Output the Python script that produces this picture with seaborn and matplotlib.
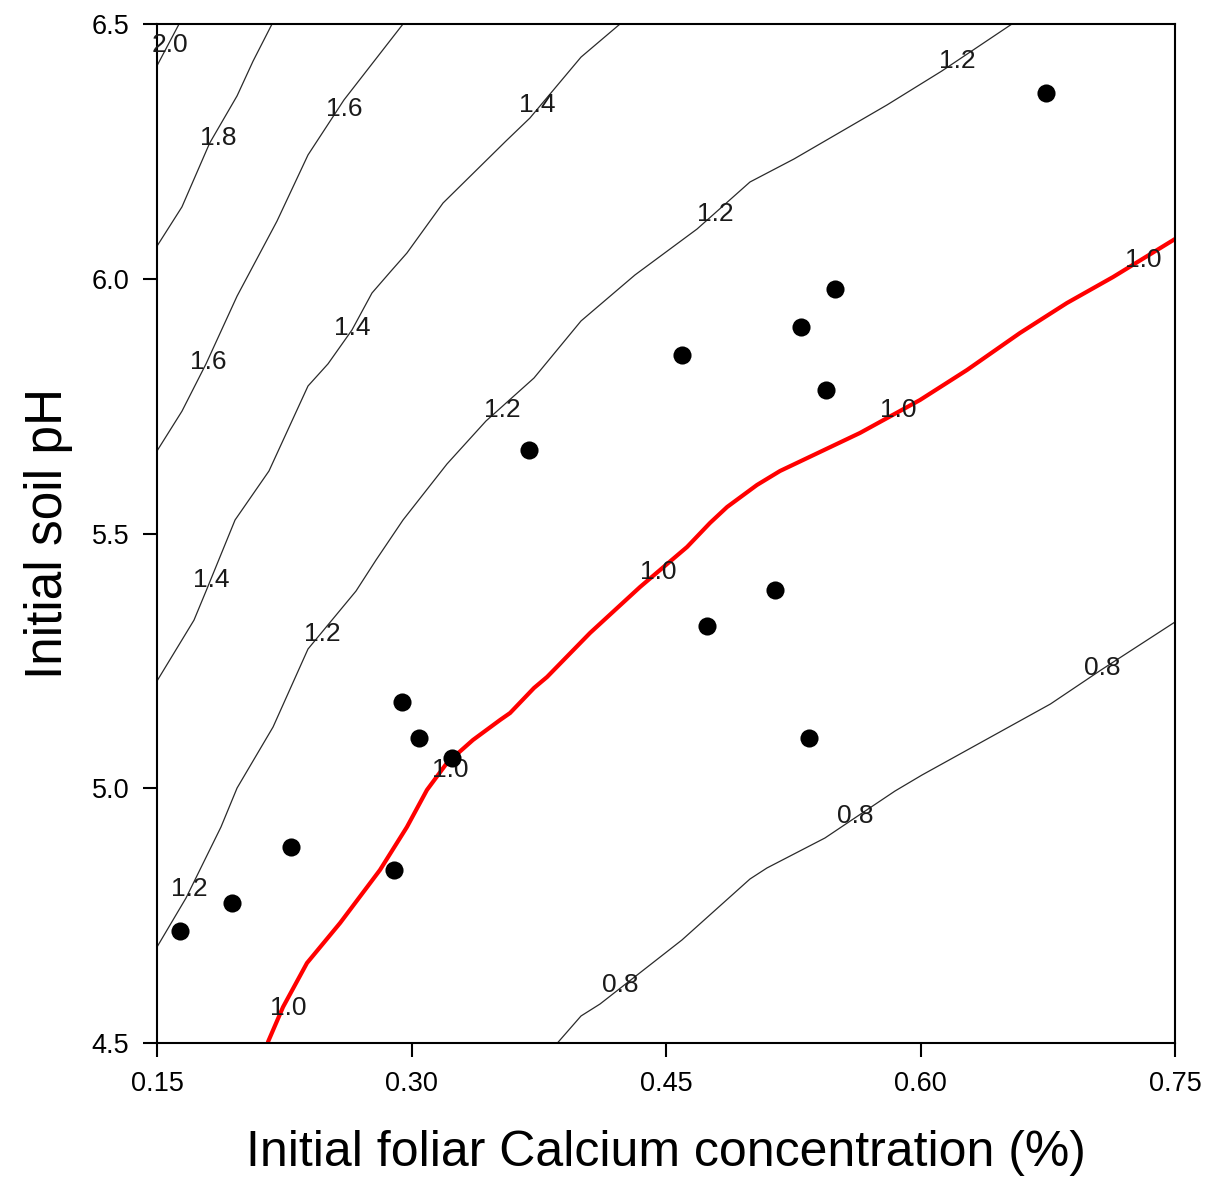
import matplotlib
matplotlib.use("Agg")
import matplotlib.pyplot as plt
import seaborn as sns
import pandas as pd

# ---------------- data ----------------
# observed points
ca_obs = [0.1636, 0.1942, 0.2290, 0.2897, 0.2944, 0.3044, 0.3239, 0.3692,
          0.4594, 0.4742, 0.5142, 0.5296, 0.5496, 0.5443, 0.5343, 0.6740]
ph_obs = [4.720, 4.775, 4.885, 4.840, 5.169, 5.099, 5.059, 5.664,
          5.850, 5.318, 5.389, 5.905, 5.980, 5.782, 5.099, 6.365]

# contour lines (x = foliar Ca %, y = soil pH)
c20_x = [0.150, 0.163]
c20_y = [6.418, 6.500]

c18_x = [0.150, 0.1647, 0.1810, 0.1972, 0.2066, 0.2178]
c18_y = [6.064, 6.141, 6.266, 6.359, 6.427, 6.500]

c16_x = [0.150, 0.1647, 0.1789, 0.1972, 0.2207, 0.2390, 0.2602, 0.2950]
c16_y = [5.662, 5.740, 5.833, 5.966, 6.113, 6.243, 6.351, 6.500]

c14_x = [0.150, 0.1718, 0.1789, 0.1960, 0.2160, 0.2390, 0.2508, 0.2649,
         0.2767, 0.2879, 0.2973, 0.3186, 0.3557, 0.3698, 0.3999, 0.4229]
c14_y = [5.2105, 5.330, 5.387, 5.5265, 5.6227, 5.7895, 5.833, 5.8994,
         5.972, 6.015, 6.0505, 6.1487, 6.2704, 6.3155, 6.435, 6.500]

c12_x = [0.150, 0.1671, 0.1877, 0.1972, 0.2184, 0.2390, 0.2673, 0.2791,
         0.2950, 0.3209, 0.3439, 0.3722, 0.3999, 0.4317, 0.4683, 0.4995,
         0.5254, 0.5802, 0.6126, 0.6539]
c12_y = [4.6884, 4.7846, 4.9239, 5.0005, 5.1202, 5.2733, 5.3871, 5.448,
         5.5265, 5.6364, 5.7208, 5.8052, 5.9171, 6.0074, 6.0976, 6.1899,
         6.235, 6.341, 6.4078, 6.500]

c10_x = [0.2154, 0.2243, 0.2384, 0.2579, 0.2814, 0.2973, 0.3091, 0.3209,
         0.3362, 0.3522, 0.3581, 0.3722, 0.3799, 0.4052, 0.4347, 0.4624,
         0.4759, 0.4860, 0.5036, 0.5172, 0.5643, 0.5997, 0.6274, 0.6586,
         0.6863, 0.7135, 0.7500]
c10_y = [4.502, 4.5707, 4.657, 4.7355, 4.8395, 4.9239, 4.9966, 5.0496,
         5.0947, 5.134, 5.1477, 5.1968, 5.2184, 5.3047, 5.395, 5.4735,
         5.5206, 5.552, 5.5952, 5.6227, 5.6973, 5.762, 5.8209, 5.8935,
         5.9524, 6.0034, 6.078]

c08_x = [0.3860, 0.3999, 0.4111, 0.4594, 0.4995, 0.5095, 0.5437, 0.5850,
         0.6009, 0.6766, 0.7064, 0.7500]
c08_y = [4.500, 4.553, 4.5765, 4.7022, 4.8219, 4.8435, 4.9024, 4.9946,
         5.026, 5.1654, 5.2321, 5.3263]

# contour label texts and positions
lab_text = ["2.0", "1.8", "1.6", "1.6", "1.4", "1.4", "1.4",
            "1.2", "1.2", "1.2", "1.2", "1.2",
            "1.0", "1.0", "1.0", "1.0", "1.0",
            "0.8", "0.8", "0.8"]
lab_x = [0.1577, 0.1860, 0.1801, 0.2602, 0.1818, 0.2649, 0.3740,
         0.1689, 0.2472, 0.3533, 0.4789, 0.6215,
         0.2272, 0.3227, 0.4453, 0.5867, 0.7311,
         0.4229, 0.5614, 0.7070]
lab_y = [6.459, 6.276, 5.837, 6.333, 5.409, 5.903, 6.341,
         4.8023, 5.3027, 5.7424, 6.1271, 6.4274,
         4.5687, 5.0358, 5.4244, 5.7424, 6.0368,
         4.6138, 4.9455, 5.236]

x_ticks = [0.15, 0.30, 0.45, 0.60, 0.75]
y_ticks = [4.5, 5.0, 5.5, 6.0, 6.5]
x_label = "Initial foliar Calcium concentration (%)"
y_label = "Initial soil pH"

# ---------------- plotting ----------------
sns.set_theme(style="ticks")
plt.rcParams['font.family'] = ['Liberation Sans', 'DejaVu Sans']

fig = plt.figure(figsize=(12.09, 11.81), dpi=100)
ax = fig.add_axes([157/1209, 1 - 1043/1181, (1175-157)/1209, (1043-24)/1181])

thin = dict(color="#2a2a2a", linewidth=0.9)
for cx, cy in [(c20_x, c20_y), (c18_x, c18_y), (c16_x, c16_y), (c14_x, c14_y),
               (c12_x, c12_y), (c10_x, c10_y), (c08_x, c08_y)]:
    sns.lineplot(x=cx, y=cy, sort=False, estimator=None, ax=ax, **thin)

# highlighted 1.0 contour
sns.lineplot(x=c10_x, y=c10_y, sort=False, estimator=None, ax=ax,
             color="#ff0000", linewidth=3.0)

for t, lx, ly in zip(lab_text, lab_x, lab_y):
    ax.text(lx, ly, t, fontsize=19, color="#1a1a1a", ha="center", va="center",
            zorder=4)

df = pd.DataFrame({"ca": ca_obs, "ph": ph_obs})
sns.scatterplot(data=df, x="ca", y="ph", ax=ax, color="black", s=170,
                edgecolor="black", linewidth=0, zorder=5)

ax.set_xlim(0.15, 0.75)
ax.set_ylim(4.5, 6.5)
ax.set_xticks(x_ticks)
ax.set_xticklabels([f"{v:.2f}" for v in x_ticks])
ax.set_yticks(y_ticks)
ax.set_yticklabels([f"{v:.1f}" for v in y_ticks])
ax.tick_params(axis="both", direction="out", length=10, width=1.5,
               labelsize=19.5, colors="black", pad=10)
for sp in ax.spines.values():
    sp.set_visible(True)
    sp.set_color("black")
    sp.set_linewidth(1.5)

ax.set_xlabel(x_label, fontsize=36, labelpad=24, color="black")
ax.set_ylabel(y_label, fontsize=37, labelpad=13, color="black")

fig.savefig("out.png", dpi=100)
